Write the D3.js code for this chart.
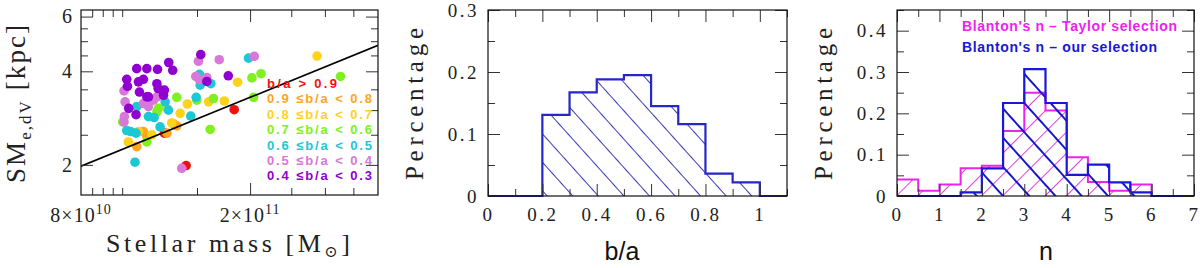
<!DOCTYPE html>
<html>
<head>
<meta charset="utf-8">
<script src="https://cdn.jsdelivr.net/npm/d3@7"></script>
<style>
body { margin: 0; background: #fff; }
</style>
</head>
<body>
<svg id="chart" width="1200" height="268"></svg>
<script>
// ---- left panel: stellar mass (1e10 Msun) vs SM_e,dV (kpc), one array per b/a class
const ptsBa09 = [[18.35, 3.01], [14.14, 1.99], [12.57, 2.53]];
const ptsBa08 = [[10.82, 2.29], [11.22, 2.56], [13.2, 2.71], [13.44, 2.67], [12.74, 2.53], [11.43, 2.47]];
const ptsBa07 = [[10.34, 2.37], [12.74, 3.04], [13.08, 2.73], [13.69, 2.93], [14.24, 3.14], [15.97, 3.19],
    [17.39, 3.21], [18.69, 3.69], [28.75, 4.48], [11.74, 2.50], [10.92, 2.56]];
const ptsBa06 = [[10.03, 2.75], [11.43, 2.37], [12.17, 3.04], [12.07, 2.96], [13.44, 3.30], [16.4, 3.27],
    [16.11, 2.60], [20.2, 3.81], [21.22, 3.93], [20.38, 3.30], [32.64, 3.85], [14.98, 3.23]];
const ptsBa05 = [[10.47, 2.56], [10.78, 2.53], [10.25, 2.58], [10.72, 2.04], [11.53, 2.86], [11.89, 2.84],
    [12.28, 2.65], [12.62, 3.19], [12.85, 3.0], [14.5, 2.87], [14.93, 3.30], [15.2, 3.91], [15.26, 3.61],
    [16.17, 3.65], [19.83, 4.41], [10.82, 3.08]];
const ptsBa04 = [[10.1, 3.46], [10.16, 3.19], [10.12, 2.86], [10.1, 2.75], [11.22, 3.15], [11.53, 3.08],
    [11.85, 3.23], [12.07, 3.31], [15.12, 4.31], [16.92, 4.36], [20.46, 4.47], [14.9, 3.85], [15.2, 3.76],
    [13.81, 1.95], [15.82, 3.82]];
const ptsBa03 = [[10.25, 3.77], [10.29, 3.58], [10.82, 4.08], [11.43, 4.08], [12.11, 4.06], [12.87, 4.27],
    [13.15, 4.03], [15.31, 4.53], [17.77, 3.87], [15.82, 3.71], [10.36, 3.04], [10.78, 2.90], [10.92, 3.70],
    [11.22, 3.77], [10.98, 3.43], [11.53, 3.31], [12.07, 3.65], [12.15, 3.52], [12.57, 3.48], [12.51, 3.35],
    [11.43, 3.31]];
const classLabels = ['b/a > 0.9', '0.9 \u2264b/a < 0.8', '0.8 \u2264b/a < 0.7', '0.7 \u2264b/a < 0.6',
    '0.6 \u2264b/a < 0.5', '0.5 \u2264b/a < 0.4', '0.4 \u2264b/a < 0.3'];
const fitMass = [8, 40];
const fitSize = [1.98, 4.85];

// ---- middle panel: b/a histogram
const baEdges = [0, 0.1, 0.2, 0.3, 0.4, 0.5, 0.6, 0.7, 0.8, 0.9, 1.0, 1.1];
const baFrac = [0, 0, 0.131, 0.167, 0.188, 0.195, 0.145, 0.116, 0.036, 0.022, 0];
const baTicks = [0, 0.2, 0.4, 0.6, 0.8, 1];

// ---- right panel: Sersic n histograms
const nEdges = [0, 0.5, 1, 1.5, 2, 2.5, 3, 3.5, 4, 4.5, 5, 5.5, 6, 6.5, 7];
const nTaylor = [0.040, 0.013, 0.028, 0.067, 0.073, 0.157, 0.250, 0.207, 0.094, 0.034, 0.013, 0.028, 0, 0];
const nOurs = [0, 0, 0, 0.009, 0.067, 0.225, 0.307, 0.225, 0.051, 0.076, 0.033, 0.009, 0, 0];
const nLegend = ["Blanton's n \u2013 Taylor selection", "Blanton's n \u2013 our selection"];

const classColors = ['#f01010', '#ffa41c', '#ffd21a', '#80f020', '#1cc8d4', '#d878d8', '#9000d0'];
const serif = '"Liberation Serif", "DejaVu Serif", serif';
const sans = '"Liberation Sans", Arial, sans-serif';

const svg = d3.select('#chart');
const defs = svg.append('defs');

function hatch(id, angle, gap, color, width) {
    defs.append('pattern')
        .attr('id', id)
        .attr('patternUnits', 'userSpaceOnUse')
        .attr('width', gap).attr('height', gap)
        .attr('patternTransform', `rotate(${angle})`)
        .append('line')
        .attr('x1', gap / 2).attr('y1', 0).attr('x2', gap / 2).attr('y2', gap)
        .attr('stroke', color).attr('stroke-width', width);
}
hatch('hatchBa', -42, 19, '#3a3ab8', 1);
hatch('hatchTaylor', 45, 15, '#e040e0', 1);
hatch('hatchOurs', -42, 19.5, '#1616c8', 2);

// frame with inward ticks on all four sides
function drawFrame(x, y, o) {
    const [x0, x1] = x.range(), [yb, yt] = y.range();
    const g = svg.append('g');
    const style = s => s.attr('color', '#333')
        .attr('font-family', serif).attr('font-size', o.fs)
        .call(s => s.select('.domain').remove())
        .call(s => s.selectAll('text').attr('fill', '#222').attr('letter-spacing', o.ls));
    const none = () => '';
    g.append('g').attr('transform', `translate(0,${yb})`)
        .call(d3.axisBottom(x).tickValues(o.xMajor).tickSize(-12).tickPadding(o.xPad).tickFormat(o.xFmt || none)).call(style);
    g.append('g').attr('transform', `translate(0,${yb})`)
        .call(d3.axisBottom(x).tickValues(o.xMinor).tickSize(-7).tickFormat(none)).call(style);
    g.append('g').attr('transform', `translate(0,${yt})`)
        .call(d3.axisTop(x).tickValues(o.xMajor).tickSize(-12).tickFormat(none)).call(style);
    g.append('g').attr('transform', `translate(0,${yt})`)
        .call(d3.axisTop(x).tickValues(o.xMinor).tickSize(-7).tickFormat(none)).call(style);
    g.append('g').attr('transform', `translate(${x0},0)`)
        .call(d3.axisLeft(y).tickValues(o.yMajor).tickSize(-12).tickPadding(o.yPad).tickFormat(o.yFmt)).call(style);
    g.append('g').attr('transform', `translate(${x0},0)`)
        .call(d3.axisLeft(y).tickValues(o.yMinor).tickSize(-7).tickFormat(none)).call(style);
    g.append('g').attr('transform', `translate(${x1},0)`)
        .call(d3.axisRight(y).tickValues(o.yMajor).tickSize(-12).tickFormat(none)).call(style);
    g.append('g').attr('transform', `translate(${x1},0)`)
        .call(d3.axisRight(y).tickValues(o.yMinor).tickSize(-7).tickFormat(none)).call(style);
    g.append('rect')
        .attr('x', x0).attr('y', yt).attr('width', x1 - x0).attr('height', yb - yt)
        .attr('fill', 'none').attr('stroke', '#111').attr('stroke-width', 1.2);
}

function stepPoints(edges, vals) {
    const p = vals.map((v, i) => [edges[i], v]);
    p.push([edges[edges.length - 1], vals[vals.length - 1]]);
    return p;
}

function drawHist(x, y, vals, edges, fill, color, width) {
    const pts = stepPoints(edges, vals);
    const area = d3.area().curve(d3.curveStepAfter)
        .x(d => x(d[0])).y0(y(0)).y1(d => y(d[1]));
    const line = d3.line().curve(d3.curveStepAfter)
        .x(d => x(d[0])).y(d => y(d[1]));
    svg.append('path').attr('d', area(pts)).attr('fill', `url(#${fill})`);
    svg.append('path').attr('d', line(pts))
        .attr('fill', 'none').attr('stroke', color).attr('stroke-width', width);
}

// ================= left panel =================
const xL = d3.scaleLog().domain([8, 40]).range([81, 378]);
const yL = d3.scaleLog().domain([1.6, 6.3]).range([195, 10]);

defs.append('clipPath').attr('id', 'clipL').append('rect')
    .attr('x', 81).attr('y', 10).attr('width', 297).attr('height', 185);

const scatter = svg.append('g').attr('clip-path', 'url(#clipL)');
[ptsBa09, ptsBa08, ptsBa07, ptsBa06, ptsBa05, ptsBa04, ptsBa03].forEach((pts, k) => {
    scatter.selectAll(null).data(pts).enter().append('circle')
        .attr('cx', d => xL(d[0]))
        .attr('cy', d => yL(d[1]))
        .attr('r', 4.8)
        .attr('fill', classColors[k]);
});
scatter.append('path')
    .attr('d', d3.line().x(d => xL(d[0])).y(d => yL(d[1]))(fitMass.map((m, i) => [m, fitSize[i]])))
    .attr('stroke', '#000').attr('stroke-width', 1.6).attr('fill', 'none');

drawFrame(xL, yL, {
    xMajor: [20], xMinor: [8.5, 9, 9.5, 10, 15, 25, 30, 35],
    yMajor: [2, 4, 6], yMinor: [2.5, 3, 3.5, 4.5, 5, 5.5],
    yFmt: d3.format('d'), yPad: 9, xPad: 10, fs: 20, ls: 0
});

// mass tick labels, 8x10^10 and 2x10^11
[[8, '8\u00d710', '10'], [20, '2\u00d710', '11']].forEach(([m, base, exp]) => {
    const t = svg.append('text')
        .attr('x', xL(m)).attr('y', 222)
        .attr('text-anchor', 'middle')
        .attr('font-family', serif).attr('font-size', 20).attr('fill', '#222')
        .attr('letter-spacing', 1);
    t.append('tspan').text(base);
    t.append('tspan').attr('dy', -8).attr('font-size', 14).text(exp);
});

classLabels.forEach((lab, k) => {
    svg.append('text')
        .attr('x', 267).attr('y', 88 + k * 15.4)
        .attr('font-family', sans).attr('font-weight', 'bold').attr('font-size', 13)
        .attr('fill', classColors[k])
        .attr('textLength', k === 0 ? 70 : 105).attr('lengthAdjust', 'spacing')
        .text(lab);
});

const xlabL = svg.append('text')
    .attr('x', 106).attr('y', 252)
    .attr('font-family', serif).attr('font-size', 26).attr('fill', '#222')
    .attr('textLength', 244).attr('lengthAdjust', 'spacing');
xlabL.append('tspan').text('Stellar mass [M');
xlabL.append('tspan').attr('dy', 5).attr('font-size', 16).attr('font-family', '"DejaVu Serif", serif').text('\u2299');
xlabL.append('tspan').attr('dy', -5).text(']');

const ylabL = svg.append('text')
    .attr('transform', 'translate(25,183) rotate(-90)')
    .attr('font-family', serif).attr('font-size', 27).attr('fill', '#222')
    .attr('textLength', 158).attr('lengthAdjust', 'spacing');
ylabL.append('tspan').text('SM');
ylabL.append('tspan').attr('dy', 6).attr('font-size', 17).text('e,dV');
ylabL.append('tspan').attr('dy', -6).text(' [kpc]');

// ================= middle panel =================
const xM = d3.scaleLinear().domain([0, 1.1]).range([488, 787]);
const yM = d3.scaleLinear().domain([0, 0.3]).range([196, 10]);

drawHist(xM, yM, baFrac, baEdges, 'hatchBa', '#2626cc', 2.2);

drawFrame(xM, yM, {
    xMajor: baTicks, xMinor: [0.1, 0.3, 0.5, 0.7, 0.9, 1.1],
    yMajor: [0, 0.1, 0.2, 0.3], yMinor: [0.05, 0.15, 0.25],
    xFmt: d => (d === 0 || d === 1) ? String(d) : d3.format('.1f')(d),
    yFmt: d => d === 0 ? '0' : d3.format('.1f')(d),
    yPad: 9, xPad: 12, fs: 19, ls: 2.5
});

svg.append('text')
    .attr('x', 622).attr('y', 260).attr('text-anchor', 'middle')
    .attr('font-family', sans).attr('font-size', 25).attr('fill', '#111')
    .text('b/a');
svg.append('text')
    .attr('transform', 'translate(423,104) rotate(-90)')
    .attr('text-anchor', 'middle')
    .attr('font-family', serif).attr('font-size', 25).attr('fill', '#222')
    .attr('textLength', 152).attr('lengthAdjust', 'spacing')
    .text('Percentage');

// ================= right panel =================
const xR = d3.scaleLinear().domain([0, 7]).range([897, 1194]);
const yR = d3.scaleLinear().domain([0, 0.45]).range([196, 10]);

drawHist(xR, yR, nTaylor, nEdges, 'hatchTaylor', '#ee22ee', 2);
drawHist(xR, yR, nOurs, nEdges, 'hatchOurs', '#1818d8', 2.2);

drawFrame(xR, yR, {
    xMajor: [0, 1, 2, 3, 4, 5, 6, 7], xMinor: [0.5, 1.5, 2.5, 3.5, 4.5, 5.5, 6.5],
    yMajor: [0, 0.1, 0.2, 0.3, 0.4], yMinor: [0.05, 0.15, 0.25, 0.35, 0.45],
    xFmt: d3.format('d'),
    yFmt: d => d === 0 ? '0' : d3.format('.1f')(d),
    yPad: 9, xPad: 12, fs: 19, ls: 2.5
});

nLegend.forEach((lab, k) => {
    svg.append('text')
        .attr('x', 962).attr('y', 31 + k * 21)
        .attr('font-family', sans).attr('font-weight', 'bold').attr('font-size', 14)
        .attr('fill', k === 0 ? '#ee22ee' : '#1818d8')
        .attr('textLength', k === 0 ? 215 : 195).attr('lengthAdjust', 'spacing')
        .text(lab);
});

svg.append('text')
    .attr('x', 1046).attr('y', 260).attr('text-anchor', 'middle')
    .attr('font-family', sans).attr('font-size', 25).attr('fill', '#111')
    .text('n');
svg.append('text')
    .attr('transform', 'translate(832,104) rotate(-90)')
    .attr('text-anchor', 'middle')
    .attr('font-family', serif).attr('font-size', 25).attr('fill', '#222')
    .attr('textLength', 152).attr('lengthAdjust', 'spacing')
    .text('Percentage');
</script>
</body>
</html>
